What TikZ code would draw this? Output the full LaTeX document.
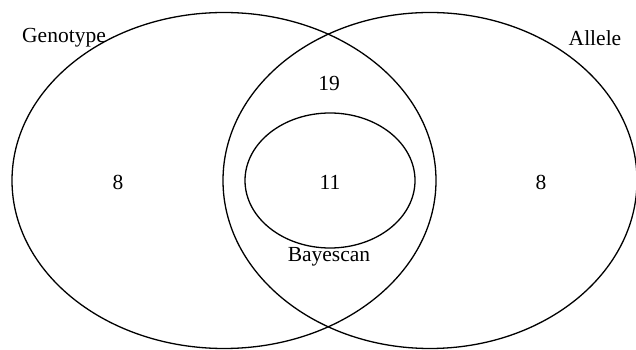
\documentclass[tikz,border=0pt]{standalone}
\usepackage{fontspec}
\setmainfont{Liberation Serif}
\begin{document}
\begin{tikzpicture}[x=1pt,y=1pt,
  setline/.style={draw=black,line width=1.3pt},
  lab/.style={font=\fontsize{21.5}{24}\selectfont,inner sep=0pt}]
\useasboundingbox (0,0) rectangle (636,350);
\draw[setline] (224,169.5) ellipse [x radius=212, y radius=168];
\draw[setline] (430,169.5) ellipse [x radius=207, y radius=168];
\draw[setline] (330,169.5) ellipse [x radius=85, y radius=67.5];
\node[lab] (geno) at (64,312) {Genotype};
\node[lab] (allele) at (595,312) {Allele};
\node[lab] (n19) at (329,267) {19};
\node[lab] (n8l) at (118,168) {8};
\node[lab] (n11) at (330,168) {11};
\node[lab] (n8r) at (541,168) {8};
\node[lab] (bayes) at (329,93) {Bayescan};
\end{tikzpicture}
\end{document}
